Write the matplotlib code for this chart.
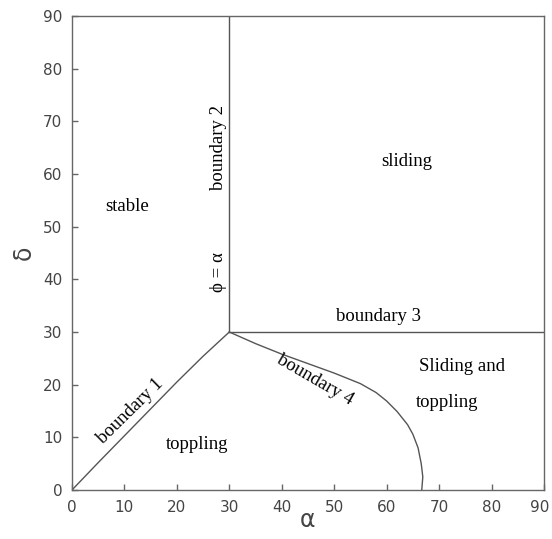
import matplotlib.pyplot as plt
import matplotlib.transforms as mtransforms
import numpy as np

# boundary lines (alpha, delta)
b1_alpha = [0, 5, 10, 15, 20, 25, 30]
b1_delta = [0, 5.2, 10.3, 15.4, 20.5, 25.4, 30]

b2_alpha = [30, 30]
b2_delta = [30, 90]

b3_alpha = [30, 90]
b3_delta = [30, 30]

b4_alpha = [30, 35, 40, 45, 50, 55, 58, 60, 62, 64, 65, 66, 66.6, 66.9, 66.7]
b4_delta = [30, 27.8, 25.8, 24.0, 22.2, 20.2, 18.5, 16.9, 14.9, 12.4, 10.6, 8.0, 5.0, 2.5, 0]

ticks = np.arange(0, 91, 10)

line_col = '#555555'
serif = ['Liberation Serif', 'DejaVu Serif']

fig = plt.figure(figsize=(5.52, 5.39), dpi=100)
ax = fig.add_axes([0.1304, 0.0909, 0.855, 0.8794])

for xs, ys in [(b1_alpha, b1_delta), (b2_alpha, b2_delta),
               (b3_alpha, b3_delta), (b4_alpha, b4_delta)]:
    ax.plot(xs, ys, color=line_col, linewidth=1.0)

ax.set_xlim(0, 90)
ax.set_ylim(0, 90)
ax.set_xticks(ticks)
ax.set_yticks(ticks)
ax.tick_params(direction='in', length=4, width=1, colors='#666666',
               labelcolor='#444444', labelsize=11, pad=7,
               top=False, right=False)
for s in ax.spines.values():
    s.set_color('#666666')
    s.set_linewidth(1.0)

# last x label sits a bit left so it stays inside the picture
lbl = ax.get_xticklabels()[-1]
lbl.set_transform(lbl.get_transform() +
                  mtransforms.ScaledTranslation(-3 / 72, 0, fig.dpi_scale_trans))

ax.set_xlabel('α', fontsize=17, color='#444444', labelpad=-5)
ax.set_ylabel('δ', fontsize=17, color='#444444', labelpad=5)

fs = 13.5
ax.text(10.5, 53.9, 'stable', family=serif, fontsize=fs, ha='center', va='center')
ax.text(63.9, 62.3, 'sliding', family=serif, fontsize=fs, ha='center', va='center')
ax.text(58.4, 32.9, 'boundary 3', family=serif, fontsize=fs, ha='center', va='center')
ax.text(74.4, 23.5, 'Sliding and', family=serif, fontsize=fs, ha='center', va='center')
ax.text(71.5, 16.7, 'toppling', family=serif, fontsize=fs, ha='center', va='center')
ax.text(23.8, 8.7, 'toppling', family=serif, fontsize=fs, ha='center', va='center')
ax.text(28.0, 65.1, 'boundary 2', family=serif, fontsize=fs, ha='center', va='center',
        rotation=90)
ax.text(28.0, 41.4, 'ϕ = α', family=serif, fontsize=fs, ha='center', va='center',
        rotation=90)
ax.text(11.1, 14.9, 'boundary 1', family=serif, fontsize=fs, ha='center', va='center',
        rotation=44.5, rotation_mode='anchor')
ax.text(46.3, 21.0, 'boundary 4', family=serif, fontsize=fs, ha='center', va='center',
        rotation=-30, rotation_mode='anchor')

fig.savefig('out.png', dpi=100)
